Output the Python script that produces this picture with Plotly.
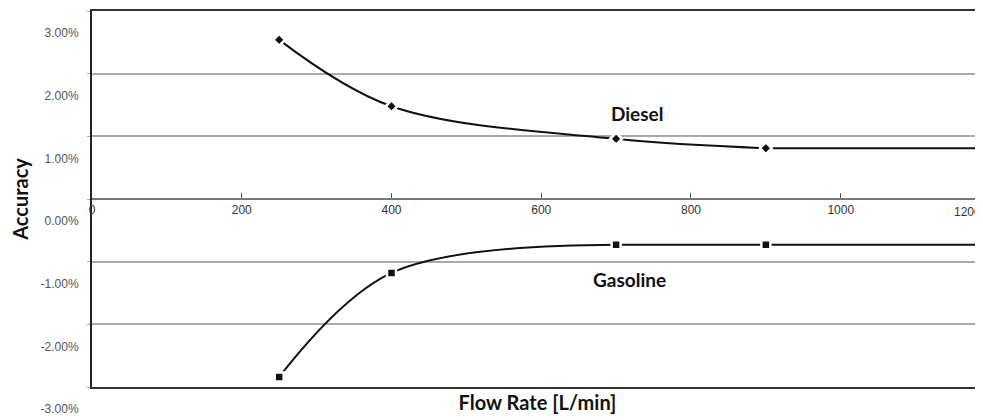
import plotly.graph_objects as go

# ---- data ----
flow_rate = [250, 400, 700, 900]
diesel = [0.0254, 0.0148, 0.0096, 0.0081]
gasoline = [-0.0284, -0.0118, -0.0073, -0.0073]
# the curves continue flat past the right edge of the plot
edge_flow = 1200
diesel_edge = 0.0081
gasoline_edge = -0.0073

x_ticks = [0, 200, 400, 600, 800, 1000, 1200]
x_tick_labels = ["0", "200", "400", "600", "800", "1000", "1200"]
y_ticks = [-0.03, -0.02, -0.01, 0.0, 0.01, 0.02, 0.03]
y_tick_labels = ["-3.00%", "-2.00%", "-1.00%", "0.00%", "1.00%", "2.00%", "3.00%"]

series_labels = {"Diesel": (728, 0.0136), "Gasoline": (718, -0.0129)}

TITLE_FONT = dict(family="Lato", size=20, color="#111")
TICK_FONT = dict(family="Liberation Sans, Arial", size=12, color="#555")
LINE = dict(color="#111", width=2)

fig = go.Figure()

def add_line(xs, ys, shape):
    fig.add_trace(go.Scatter(
        x=xs, y=ys, mode="lines",
        line=dict(**LINE, shape=shape, **({"smoothing": 1} if shape == "spline" else {})),
        xaxis="x2", yaxis="y", showlegend=False, hoverinfo="skip"))

# Diesel: smooth through the measured points, flat afterwards
add_line(flow_rate, diesel, "spline")
add_line([flow_rate[-1], edge_flow], [diesel[-1], diesel_edge], "linear")
# Gasoline: smooth up to 700, straight afterwards
add_line(flow_rate[:3], gasoline[:3], "spline")
add_line(flow_rate[2:] + [edge_flow], gasoline[2:] + [gasoline_edge], "linear")

# markers
fig.add_trace(go.Scatter(
    x=flow_rate, y=diesel, mode="markers",
    marker=dict(symbol="diamond", size=9, color="#111", line=dict(color="white", width=2.5)),
    xaxis="x2", yaxis="y", name="Diesel", showlegend=False))
fig.add_trace(go.Scatter(
    x=flow_rate, y=gasoline, mode="markers",
    marker=dict(symbol="square", size=9, color="#111", line=dict(color="white", width=2.5)),
    xaxis="x2", yaxis="y", name="Gasoline", showlegend=False))

annotations = []
for name, (ax_x, ax_y) in series_labels.items():
    annotations.append(dict(x=ax_x, y=ax_y, xref="x", yref="y", text="<b>%s</b>" % name,
                            showarrow=False, font=dict(family="Lato", size=19, color="#111")))
# last tick label sits right at the visible edge
annotations.append(dict(x=1, xref="paper", y=0, yref="y", xanchor="right", yanchor="top",
                        yshift=-4, text=x_tick_labels[-1], showarrow=False,
                        font=dict(family="Liberation Sans, Arial", size=12, color="#333")))

fig.update_layout(
    width=975, height=412,
    margin=dict(l=84, r=0, t=3, b=33),
    paper_bgcolor="white", plot_bgcolor="white",
    showlegend=False,
    annotations=annotations,
    xaxis=dict(
        range=[0, 1190], showgrid=False, zeroline=False,
        showline=True, linecolor="#333", linewidth=2, mirror=True,
        ticks="", showticklabels=False,
        title=dict(text="<b>Flow Rate [L/min]</b>", font=TITLE_FONT, standoff=8),
    ),
    xaxis2=dict(
        overlaying="x", matches="x", anchor="free", position=0.5, side="bottom",
        showgrid=False, zeroline=False,
        showline=True, linecolor="#777", linewidth=2,
        ticks="inside", ticklen=5, tickcolor="#555", tickwidth=1,
        tickmode="array", tickvals=x_ticks, ticktext=x_tick_labels,
        tickfont=dict(family="Liberation Sans, Arial", size=12, color="#333"),
    ),
    yaxis=dict(
        range=[-0.03, 0.03], anchor="x",
        tickmode="array", tickvals=y_ticks, ticktext=y_tick_labels,
        showgrid=True, gridcolor="#aaaaaa", gridwidth=1.5, zeroline=False,
        showline=True, linecolor="#222", linewidth=2,
        ticks="outside", ticklen=3, tickcolor="#aaaaaa",
        ticklabelshift=22, ticklabelstandoff=6,
        tickfont=TICK_FONT,
        title=dict(text="<b>Accuracy</b>", font=TITLE_FONT, standoff=12),
    ),
)

fig.write_html("out.html")
